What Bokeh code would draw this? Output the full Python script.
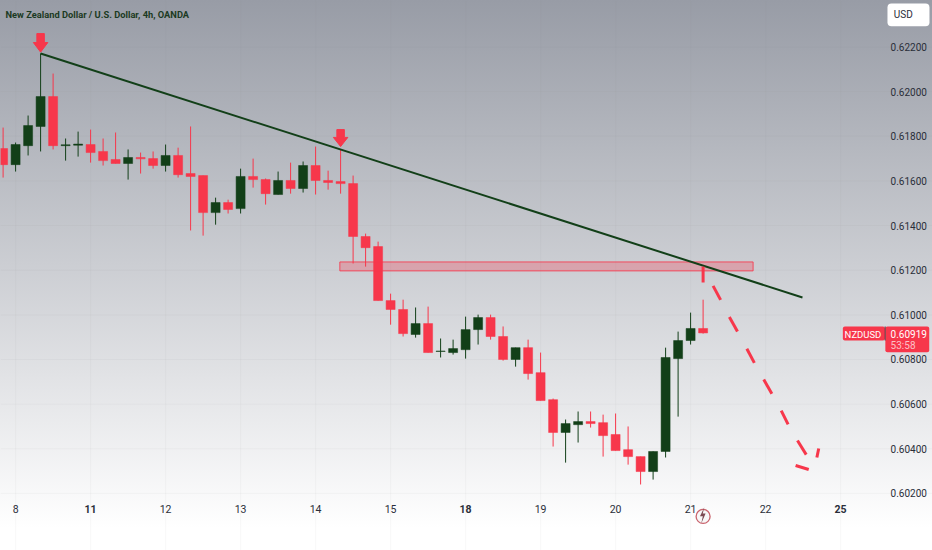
from bokeh.plotting import figure
from bokeh.models import Range1d, LinearAxis, FixedTicker, Label, ColumnDataSource
from bokeh.core.properties import value
from bokeh.embed import file_html
from bokeh.resources import INLINE

title = "New Zealand Dollar / U.S. Dollar, 4h, OANDA"
opens = [.61745,.61673,.61758,.61844,.61978,.61758,.61760,.61763,.61732,.61696,.61678,.61705,.61700,.61669,.61714,.61633,.61624,.61458,.61503,.61476,.61620,.61606,.61539,.61602,.61566,.61669,.61602,.61597,.61588,.61351,.61306,.61064,.61024,.60912,.60961,.60836,.60831,.60844,.60934,.60988,.60903,.60800,.60853,.60741,.60620,.60473,.60508,.60522,.60517,.60464,.60396,.60365,.60298,.60388,.60804,.60885,.60939]
highs = [.61839,.61772,.61893,.62171,.62081,.61790,.61821,.61830,.61790,.61817,.61741,.61727,.61732,.61763,.61749,.61844,.61624,.61525,.61516,.61655,.61700,.61611,.61642,.61682,.61687,.61754,.61646,.61741,.61624,.61364,.61328,.61095,.61068,.61033,.61037,.60894,.60889,.60992,.61001,.61001,.60948,.60853,.60889,.60831,.60625,.60531,.60567,.60567,.60553,.60558,.60500,.60365,.60388,.60853,.60925,.61010,.61068]
lows = [.61615,.61642,.61714,.61732,.61741,.61691,.61709,.61682,.61669,.61678,.61606,.61633,.61655,.61642,.61615,.61378,.61355,.61404,.61454,.61454,.61570,.61494,.61539,.61543,.61548,.61539,.61561,.61543,.61230,.61216,.61064,.60956,.60903,.60898,.60831,.60809,.60822,.60804,.60867,.60889,.60795,.60768,.60710,.60616,.60410,.60338,.60428,.60495,.60365,.60392,.60329,.60240,.60262,.60361,.60544,.60867,.60916]
closes = [.61673,.61763,.61848,.61978,.61758,.61762,.61765,.61727,.61691,.61678,.61705,.61699,.61669,.61714,.61628,.61620,.61458,.61503,.61472,.61620,.61606,.61543,.61602,.61566,.61669,.61602,.61593,.61588,.61351,.61301,.61064,.61024,.60916,.60961,.60831,.60838,.60849,.60934,.60988,.60903,.60800,.60853,.60737,.60616,.60473,.60513,.60522,.60513,.60459,.60392,.60365,.60298,.60388,.60809,.60885,.60939,.60919]

price_ticks = [.622,.620,.618,.616,.614,.612,.610,.608,.606,.604,.602]
day_ticks = [1,13,19,25,31,43,49,55,61]
day_labels = ["8","12","13","14","15","19","20","21","22"]
bold_day_ticks = [7,37,67]
bold_day_labels = ["11","18","25"]

trend_x = [3, 63.95]
trend_y = [.62171, .61078]
zone = dict(left=26.94, right=60.0, top=.61237, bottom=.61197)
arrow_a_x = [2.7,3.3,3.3,3.58,3,2.42,2.7]
arrow_a_y = [.62260,.62260,.62220,.62220,.62177,.62220,.62220]
arrow_b_x = [26.7,27.3,27.3,27.58,27,26.42,26.7]
arrow_b_y = [.61830,.61830,.61795,.61795,.61754,.61795,.61795]
dash_x = [[56,56],[56.8,57.4],[58.1,58.75],[59.5,60.1],[60.85,61.5],[62.25,62.8],[63.55,64.25],[63.4,64.45],[65.1,65.25]]
dash_y = [[.61216,.61145],[.61130,.61067],[.60990,.60925],[.60848,.60785],[.60710,.60647],[.60571,.60509],[.60437,.60374],[.60325,.60307],[.60361,.60401]]
bolt_x = [56.1,55.75,55.98,55.85,56.2,55.97]
bolt_y = [.60138,.60098,.60098,.60065,.60110,.60110]

W, H = 932, 550
GREEN, RED, INK = "#123f18", "#f7374b", "#2a2e39"
FONT = "Roboto"

p = figure(width=W, height=H, output_backend="svg", toolbar_location=None,
           x_range=Range1d(-0.208, 74.352), y_range=Range1d(.599443, .624083),
           min_border=0, background_fill_color=None, border_fill_color=None,
           outline_line_color=None, x_axis_type=None, y_axis_type=None)
p.styles = {"position": "fixed", "left": "0", "top": "0",
            "background": "linear-gradient(180deg,#989ca6 0%,#ffffff 96%)"}
p.grid.visible = False
for t in day_ticks + bold_day_ticks:
    p.segment([t], [.599443], [t], [.624083], line_color="#808080", line_alpha=.06, line_width=1)
for t in price_ticks:
    p.segment([-.208], [t], [74.352], [t], line_color="#808080", line_alpha=.06, line_width=1)

idx = list(range(len(opens)))
colors = [GREEN if c >= o else RED for o, c in zip(opens, closes)]
src = ColumnDataSource(dict(x=idx, o=opens, h=highs, l=lows, c=closes, col=colors,
                            top=[max(a, b) for a, b in zip(opens, closes)],
                            bot=[min(a, b) for a, b in zip(opens, closes)]))
p.segment("x", "h", "x", "l", source=src, line_color="col", line_width=1)
p.vbar("x", .72, "top", "bot", source=src, fill_color="col", line_color="col", line_width=.5)

p.quad(**zone, fill_color=RED, fill_alpha=.28, line_color=RED, line_alpha=.85, line_width=1)
p.line(trend_x, trend_y, line_color=GREEN, line_width=2)
p.patch(arrow_a_x, arrow_a_y, fill_color=RED, line_color=RED)
p.patch(arrow_b_x, arrow_b_y, fill_color=RED, line_color=RED)
p.multi_line(dash_x, dash_y, line_color=RED, line_width=3)

# event marker
p.scatter([56], [.60097], size=14, marker="circle", fill_color="#f7f7f7",
          line_color="#c9636d", line_width=1.3)
p.patch(bolt_x, bolt_y, fill_color="#7a4a52", line_color=None)

# axes
ya = LinearAxis(ticker=FixedTicker(ticks=price_ticks), fixed_location=71.0,
                major_label_overrides={t: f"{t:.5f}" for t in price_ticks},
                axis_line_color=None, major_tick_line_color=None, minor_tick_line_color=None,
                major_tick_out=0, major_tick_in=0, minor_tick_out=0, minor_tick_in=0,
                major_label_standoff=0, major_label_text_font=FONT,
                major_label_text_font_size="10px", major_label_text_color=INK)
p.add_layout(ya, "right")
for ticks, labels, style in ((day_ticks, day_labels, "normal"), (bold_day_ticks, bold_day_labels, "bold")):
    xa = LinearAxis(ticker=FixedTicker(ticks=ticks), fixed_location=.60168,
                    major_label_overrides=dict(zip(ticks, labels)),
                    axis_line_color=None, major_tick_line_color=None, minor_tick_line_color=None,
                    major_tick_out=0, major_tick_in=0, minor_tick_out=0, minor_tick_in=0,
                    major_label_standoff=4, major_label_text_font=FONT,
                    major_label_text_font_size="10.5px", major_label_text_color=INK,
                    major_label_text_font_style=style)
    p.add_layout(xa, "below")

# title and price tag
p.add_layout(Label(x=5, y=H - 19, x_units="screen", y_units="screen", text=title,
                   text_font="Roboto", text_font_size="9.3px", text_font_style="bold",
                   text_color="#1b3a22"))
p.quad([70.75], [74.11], [.62293], [.62395], fill_color="#ffffff", line_color=None, border_radius=4)
p.text([71.25], [.62344], ["USD"], text_font=value(FONT), text_font_size=value("10px"), text_color=INK, text_baseline="middle")

p.quad([67.18], [70.55], [.60885], [.60948], fill_color=RED, line_color=None, border_radius=2)
p.quad([70.58], [74.09], [.60833], [.60948], fill_color=RED, line_color=None, border_radius=2)
p.segment([70.565], [.60948], [70.565], [.60885], line_color="#5a3a40", line_width=1)
p.text([68.79], [.60912], ["NZDUSD"], text_font=value(FONT), text_font_size=value("9.5px"), text_color="#ffffff",
       text_align="center", text_baseline="middle")
p.text([71.0], [.60912], ["0.60919"], text_font=value(FONT), text_font_size=value("10px"), text_color="#ffffff",
       text_baseline="middle")
p.text([71.0], [.60863], ["53:58"], text_font=value(FONT), text_font_size=value("10px"), text_color="#ffffff",
       text_alpha=.7, text_baseline="middle")

open("out.html", "w").write(file_html(p, INLINE))
